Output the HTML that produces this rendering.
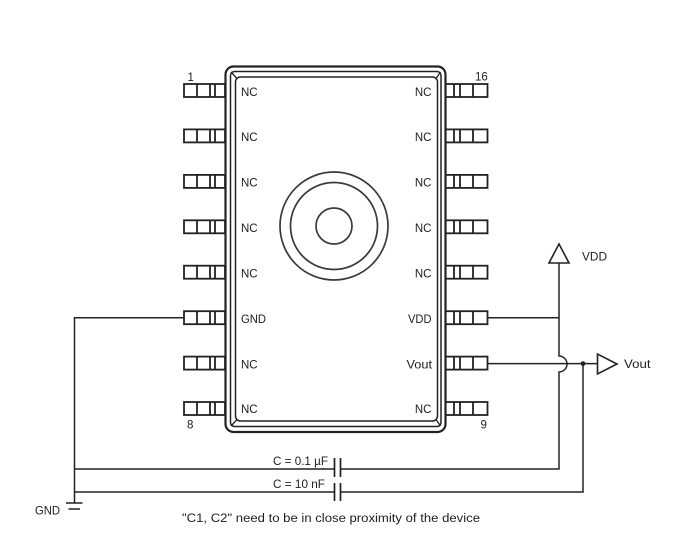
<!DOCTYPE html>
<html>
<head>
<meta charset="utf-8">
<style>
  html,body{margin:0;padding:0;background:#fff;}
  svg{display:block;}
  text{font-family:"Liberation Sans",sans-serif;font-size:11.5px;fill:#1e1e1e;}
</style>
</head>
<body>
<svg width="698" height="557" viewBox="0 0 698 557" xmlns="http://www.w3.org/2000/svg">
  <rect width="698" height="557" fill="#fff"/>
  <g fill="none" stroke="#222" stroke-linecap="butt">
    <!-- chip frame -->
    <rect x="225.5" y="66.5" width="220" height="365.5" rx="8" stroke-width="2.2"/>
    <rect x="230.5" y="71.5" width="210.5" height="355" rx="4" stroke-width="1.5"/>
    <rect x="235.5" y="77" width="202" height="344" rx="5" stroke-width="1.5"/>
    <line x1="231" y1="72" x2="237" y2="78.5" stroke-width="1.3"/>
    <line x1="440.5" y1="72" x2="436" y2="78.5" stroke-width="1.3"/>
    <line x1="231" y1="426" x2="237" y2="419.5" stroke-width="1.3"/>
    <line x1="440.5" y1="426" x2="436" y2="419.5" stroke-width="1.3"/>

    <!-- center circles -->
    <g stroke="#3a3a3a" stroke-width="1.7">
      <circle cx="334" cy="226" r="54"/>
      <circle cx="334" cy="226" r="43.5"/>
      <circle cx="334" cy="226" r="18"/>
    </g>

    <!-- left pins -->
    <g stroke-width="1.8">
      <g transform="translate(0,90.5)"><rect x="184" y="-6.5" width="41" height="13"/><path d="M197 -6.5V6.5M210 -6.5V6.5M215 -6.5V6.5"/></g>
      <g transform="translate(0,135.9)"><rect x="184" y="-6.5" width="41" height="13"/><path d="M197 -6.5V6.5M210 -6.5V6.5M215 -6.5V6.5"/></g>
      <g transform="translate(0,181.4)"><rect x="184" y="-6.5" width="41" height="13"/><path d="M197 -6.5V6.5M210 -6.5V6.5M215 -6.5V6.5"/></g>
      <g transform="translate(0,226.8)"><rect x="184" y="-6.5" width="41" height="13"/><path d="M197 -6.5V6.5M210 -6.5V6.5M215 -6.5V6.5"/></g>
      <g transform="translate(0,272.2)"><rect x="184" y="-6.5" width="41" height="13"/><path d="M197 -6.5V6.5M210 -6.5V6.5M215 -6.5V6.5"/></g>
      <g transform="translate(0,317.7)"><rect x="184" y="-6.5" width="41" height="13"/><path d="M197 -6.5V6.5M210 -6.5V6.5M215 -6.5V6.5"/></g>
      <g transform="translate(0,363.1)"><rect x="184" y="-6.5" width="41" height="13"/><path d="M197 -6.5V6.5M210 -6.5V6.5M215 -6.5V6.5"/></g>
      <g transform="translate(0,408.5)"><rect x="184" y="-6.5" width="41" height="13"/><path d="M197 -6.5V6.5M210 -6.5V6.5M215 -6.5V6.5"/></g>
    </g>
    <!-- right pins -->
    <g stroke-width="1.8">
      <g transform="translate(0,90.5)"><rect x="445.5" y="-6.5" width="42" height="13"/><path d="M454 -6.5V6.5M460 -6.5V6.5M473 -6.5V6.5"/></g>
      <g transform="translate(0,135.9)"><rect x="445.5" y="-6.5" width="42" height="13"/><path d="M454 -6.5V6.5M460 -6.5V6.5M473 -6.5V6.5"/></g>
      <g transform="translate(0,181.4)"><rect x="445.5" y="-6.5" width="42" height="13"/><path d="M454 -6.5V6.5M460 -6.5V6.5M473 -6.5V6.5"/></g>
      <g transform="translate(0,226.8)"><rect x="445.5" y="-6.5" width="42" height="13"/><path d="M454 -6.5V6.5M460 -6.5V6.5M473 -6.5V6.5"/></g>
      <g transform="translate(0,272.2)"><rect x="445.5" y="-6.5" width="42" height="13"/><path d="M454 -6.5V6.5M460 -6.5V6.5M473 -6.5V6.5"/></g>
      <g transform="translate(0,317.7)"><rect x="445.5" y="-6.5" width="42" height="13"/><path d="M454 -6.5V6.5M460 -6.5V6.5M473 -6.5V6.5"/></g>
      <g transform="translate(0,363.1)"><rect x="445.5" y="-6.5" width="42" height="13"/><path d="M454 -6.5V6.5M460 -6.5V6.5M473 -6.5V6.5"/></g>
      <g transform="translate(0,408.5)"><rect x="445.5" y="-6.5" width="42" height="13"/><path d="M454 -6.5V6.5M460 -6.5V6.5M473 -6.5V6.5"/></g>
    </g>

    <!-- wiring -->
    <g stroke-width="1.5">
      <path d="M184 317.7H74.5V503"/>
      <path d="M66 503H82.5M68.5 509H80"/>
      <path d="M74.5 469H334"/>
      <path d="M74.5 492H334"/>
      <path d="M334.5 458V477M340.5 458V477" stroke-width="1.7"/>
      <path d="M334.5 483V501M340.5 483V501" stroke-width="1.7"/>
      <path d="M340.5 469H559V372A8 8 0 0 0 559 356V263"/>
      <path d="M487.5 317.7H559"/>
      <path d="M487.5 363.6H597.5"/>
      <path d="M340.5 492H583V363.6"/>
      <path d="M559 244L549 263H569Z" stroke-width="1.6"/>
      <path d="M597.5 354L597.5 374L617 364Z" stroke-width="1.6"/>
    </g>
  </g>
  <circle cx="583" cy="363.6" r="2.4" fill="#222"/>

  <!-- pin labels left -->
  <text x="241" y="96">NC</text>
  <text x="241" y="141">NC</text>
  <text x="241" y="186.5">NC</text>
  <text x="241" y="232">NC</text>
  <text x="241" y="277.5">NC</text>
  <text x="241" y="323" textLength="25" lengthAdjust="spacingAndGlyphs">GND</text>
  <text x="241" y="368.5">NC</text>
  <text x="241" y="413">NC</text>
  <!-- pin labels right -->
  <text x="431.5" y="96" text-anchor="end">NC</text>
  <text x="431.5" y="141" text-anchor="end">NC</text>
  <text x="431.5" y="186.5" text-anchor="end">NC</text>
  <text x="431.5" y="232" text-anchor="end">NC</text>
  <text x="431.5" y="277.5" text-anchor="end">NC</text>
  <text x="431.5" y="323" text-anchor="end" textLength="23.5" lengthAdjust="spacingAndGlyphs">VDD</text>
  <text x="432" y="368.5" text-anchor="end" textLength="25.5" lengthAdjust="spacingAndGlyphs">Vout</text>
  <text x="431.5" y="413" text-anchor="end">NC</text>

  <!-- pin numbers -->
  <text x="187.5" y="81">1</text>
  <text x="475" y="80.5">16</text>
  <text x="187" y="428.5">8</text>
  <text x="480.5" y="428.5">9</text>

  <!-- external labels -->
  <text x="582" y="260.5" textLength="25" lengthAdjust="spacingAndGlyphs">VDD</text>
  <text x="624" y="368" textLength="26.5" lengthAdjust="spacingAndGlyphs">Vout</text>
  <text x="35" y="514.5" textLength="25" lengthAdjust="spacingAndGlyphs">GND</text>
  <text x="273" y="465" textLength="55" lengthAdjust="spacingAndGlyphs">C = 0.1 µF</text>
  <text x="273" y="488" textLength="52" lengthAdjust="spacingAndGlyphs">C = 10 nF</text>
  <text x="182" y="522" textLength="298" lengthAdjust="spacingAndGlyphs">"C1, C2" need to be in close proximity of the device</text>
</svg>
</body>
</html>
